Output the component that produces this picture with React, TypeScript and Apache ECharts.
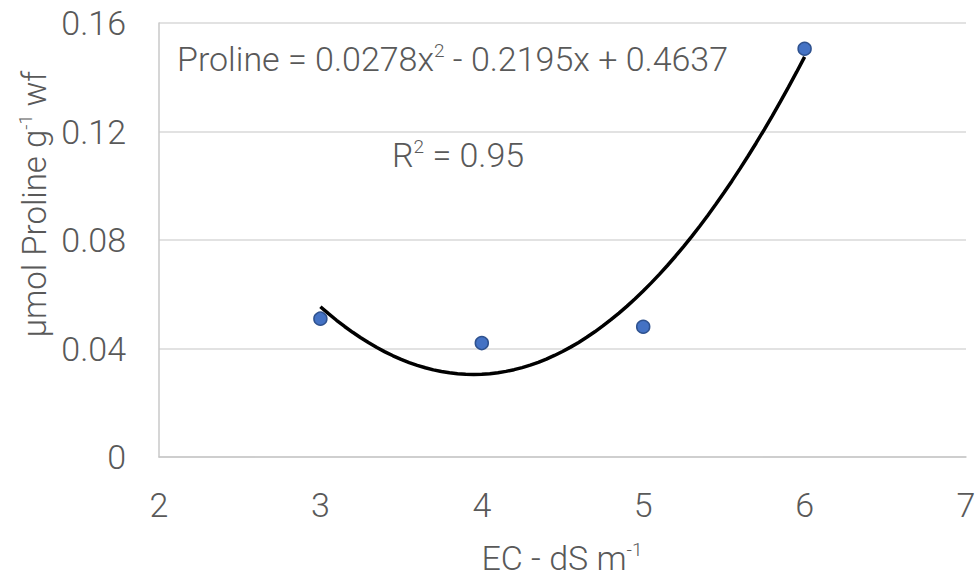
import React, { useEffect, useRef } from "react";
import * as echarts from "echarts";

const xTicks = [2, 3, 4, 5, 6, 7];
const yTicks = [0, 0.04, 0.08, 0.12, 0.16];
const ecValues = [3, 4, 5, 6];
const prolineValues = [0.051, 0.042, 0.048, 0.1505];
// Polynomial trend line coefficients as printed on the chart (a x^2 + b x + c)
const trendCoefficients = [0.0278, -0.2195, 0.4637];
const trendRange = [3, 6];
const rSquared = 0.95;
const xTitle = ["EC - dS m", "-1"];
const yTitle = ["μmol Proline g", "-1", " wf"];

const FONT = "Roboto, 'Noto Sans', sans-serif";
const TEXT = "#595959";

export default function App() {
  const ref = useRef<HTMLDivElement>(null);

  useEffect(() => {
    if (!ref.current) return;
    const chart = echarts.init(ref.current, undefined, { renderer: "svg" });
    const [a, b, c] = trendCoefficients;
    const trend: number[][] = [];
    const steps = 60;
    for (let i = 0; i <= steps; i++) {
      const x = trendRange[0] + ((trendRange[1] - trendRange[0]) * i) / steps;
      trend.push([x, a * x * x + b * x + c]);
    }
    const t = { fontSize: 34, fill: TEXT, fontFamily: FONT, fontWeight: 300, lineHeight: 40, verticalAlign: "bottom" as const };
    const s = { fontSize: 19, fill: TEXT, fontFamily: FONT, fontWeight: 300, lineHeight: 20, verticalAlign: "top" as const, padding: [5, 0, 0, 0] };
    const rich = { t, s };
    const ty = { ...t, fontSize: 33 };
    const sy = { ...s, fontSize: 18 };
    chart.setOption({
      animation: false,
      backgroundColor: "#ffffff",
      grid: { left: 159, right: 10, top: 23, bottom: 120, containLabel: false, outerBoundsMode: "none" },
      xAxis: {
        type: "value",
        min: xTicks[0],
        max: xTicks[xTicks.length - 1],
        interval: 1,
        axisLine: { show: true, lineStyle: { color: "#c8c8c8", width: 1.5 } },
        axisTick: { show: false },
        splitLine: { show: false },
        axisLabel: { color: TEXT, fontSize: 34, fontFamily: FONT, fontWeight: 300, margin: 31 },
      },
      yAxis: {
        type: "value",
        min: yTicks[0],
        max: yTicks[yTicks.length - 1],
        interval: 0.04,
        axisLine: { show: true, lineStyle: { color: "#c8c8c8", width: 1.5 } },
        axisTick: { show: false },
        splitLine: { show: true, lineStyle: { color: "#d9d9d9", width: 1.5 } },
        axisLabel: {
          color: TEXT,
          fontSize: 34,
          fontFamily: FONT,
          fontWeight: 300,
          margin: 33,
          formatter: (v: number) => (v === 0 ? "0" : v.toFixed(2)),
        },
      },
      series: [
        {
          type: "line",
          data: trend,
          showSymbol: false,
          symbol: "none",
          smooth: false,
          lineStyle: { color: "#000000", width: 3.5 },
          z: 2,
        },
        {
          type: "scatter",
          data: ecValues.map((x, i) => [x, prolineValues[i]]),
          symbolSize: 13,
          itemStyle: { color: "#4472C4", borderColor: "#2F528F", borderWidth: 1.5, opacity: 1 },
          z: 3,
        },
      ],
      graphic: [
        {
          type: "text",
          x: 177,
          y: 56,
          style: {
            text: `{t|Proline = ${trendCoefficients[0]}x}{s|2}{t| - ${Math.abs(trendCoefficients[1])}x + ${trendCoefficients[2]}}`,
            rich,
            align: "left",
            verticalAlign: "middle",
          },
        },
        {
          type: "text",
          x: 392,
          y: 152,
          style: {
            text: `{t|R}{s|2}{t| = ${rSquared}}`,
            rich,
            align: "left",
            verticalAlign: "middle",
          },
        },
        {
          type: "text",
          x: 562,
          y: 555,
          style: {
            text: `{t|${xTitle[0]}}{s|${xTitle[1]}}`,
            rich,
            align: "center",
            verticalAlign: "middle",
          },
        },
        {
          type: "text",
          x: 31,
          y: 204,
          rotation: Math.PI / 2,
          style: {
            text: `{t|${yTitle[0]}}{s|${yTitle[1]}}{t|${yTitle[2]}}`,
            rich: { t: ty, s: sy },
            align: "center",
            verticalAlign: "middle",
          },
        },
      ],
    });
    return () => chart.dispose();
  }, []);

  return <div ref={ref} style={{ width: 976, height: 577, position: "fixed", left: 0, top: 0 }} />;
}
